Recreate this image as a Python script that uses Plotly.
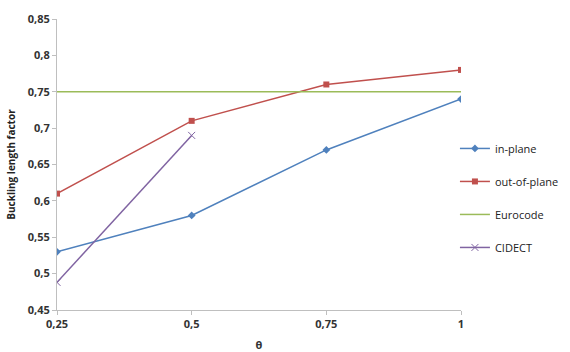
import plotly.graph_objects as go

x_vals = [0.25, 0.5, 0.75, 1]
in_plane = [0.53, 0.58, 0.67, 0.74]
out_of_plane = [0.61, 0.71, 0.76, 0.78]
eurocode = [0.75, 0.75, 0.75, 0.75]
cidect_x = [0.25, 0.5]
cidect = [0.488, 0.69]
x_ticks = [0.25, 0.5, 0.75, 1]
x_ticktext = ["0,25", "0,5", "0,75", "1"]
y_ticks = [0.45, 0.5, 0.55, 0.6, 0.65, 0.7, 0.75, 0.8, 0.85]
y_ticktext = ["0,45", "0,5", "0,55", "0,6", "0,65", "0,7", "0,75", "0,8", "0,85"]

fig = go.Figure()
fig.add_trace(go.Scatter(x=x_vals, y=in_plane, name="in-plane", mode="lines+markers",
                         line=dict(color="#4F81BD", width=1.5),
                         marker=dict(symbol="diamond", size=6, color="#4F81BD"),
                         legendgroup="a"))
fig.add_trace(go.Scatter(x=x_vals, y=out_of_plane, name="out-of-plane", mode="lines+markers",
                         line=dict(color="#C0504D", width=1.5),
                         marker=dict(symbol="square", size=6, color="#C0504D"),
                         legendgroup="b"))
fig.add_trace(go.Scatter(x=x_vals, y=eurocode, name="Eurocode", mode="lines",
                         line=dict(color="#9BBB59", width=1.5),
                         legendgroup="c"))
fig.add_trace(go.Scatter(x=cidect_x, y=cidect, name="CIDECT", mode="lines+markers",
                         line=dict(color="#8064A2", width=1.5),
                         marker=dict(symbol="x-thin-open", size=7, color="#8064A2",
                                     line=dict(color="#8064A2", width=1)),
                         legendgroup="d"))

fam = "Open Sans, DejaVu Sans, sans-serif"
tick_font = dict(family=fam, size=11, color="#333333", weight="bold")
fig.update_layout(
    width=570, height=352,
    margin=dict(l=57, r=109, t=19, b=42, autoexpand=False),
    plot_bgcolor="white", paper_bgcolor="white",
    showlegend=True,
    legend=dict(x=0.985, y=0.605, yanchor="top", xanchor="left",
                bgcolor="rgba(0,0,0,0)",
                font=dict(family=fam, size=11, color="#222222"),
                tracegroupgap=14, itemwidth=30),
    xaxis=dict(range=[0.25, 1], tickvals=x_ticks, ticktext=x_ticktext,
               showgrid=False, zeroline=False, showline=True, linecolor="#BFBFBF",
               ticks="outside", ticklen=4, tickcolor="#BFBFBF",
               tickfont=tick_font,
               title=dict(text="θ", font=dict(family=fam, size=11, color="#333333", weight="bold"),
                          standoff=18)),
    yaxis=dict(range=[0.45, 0.85], tickvals=y_ticks, ticktext=y_ticktext,
               showgrid=False, zeroline=False, showline=True, linecolor="#BFBFBF",
               ticks="outside", ticklen=4, tickcolor="#BFBFBF",
               tickfont=tick_font,
               title=dict(text="Buckling length factor",
                          font=dict(family=fam, size=10, color="#222222", weight="bold"),
                          standoff=10)),
)
fig.write_html("out.html")
